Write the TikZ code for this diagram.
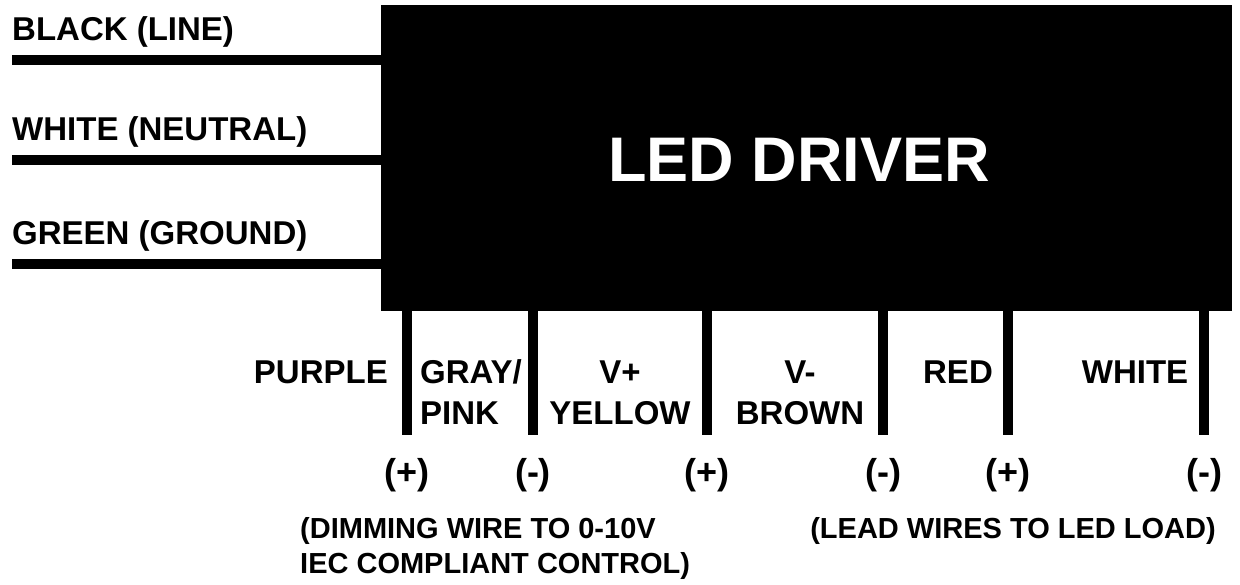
\documentclass[tikz,border=0pt]{standalone}
\usepackage{fontspec}
\setmainfont{Liberation Sans}
\begin{document}
\begin{tikzpicture}[x=1pt,y=-1pt,
  wire/.style={line width=10pt},
  lbl/.style={font=\fontsize{33}{40}\selectfont\bfseries, inner sep=0pt, align=center},
  sml/.style={font=\fontsize{29}{35}\selectfont\bfseries, inner sep=0pt},
  pm/.style={font=\fontsize{36}{40}\selectfont\bfseries, inner sep=0pt}]
\useasboundingbox (0,0) rectangle (1240,585);
\node[fill=black, minimum width=851pt, minimum height=306pt, inner sep=0pt, anchor=north west] (drv) at (381,5) {};
\node[text=white, font=\fontsize{63}{70}\selectfont\bfseries] (t) at (799,160) {LED DRIVER};
\foreach \y/\n/\t in {60/a/BLACK (LINE), 160/b/WHITE (NEUTRAL), 264/c/GREEN (GROUND)}{
  \coordinate (l\n) at (12,\y);
  \coordinate (r\n) at (381,\y);
  \draw[wire] (l\n) -- (r\n);
  \node[lbl, anchor=base west] at (12,\y-19) {\t};
}
\foreach \x/\n/\s in {407/p/(+), 533/g/(-), 707/y/(+), 883/b/(-), 1008/r/(+), 1204/w/(-)}{
  \coordinate (top\n) at (\x,311);
  \coordinate (bot\n) at (\x,435);
  \draw[wire] (top\n) -- (bot\n);
  \node[pm] (s\n) at (\x,475) {\s};
}
\node[lbl, anchor=base east] at (388,384) {PURPLE};
\node[lbl, anchor=base west, align=left] at (420,424) {GRAY/\\PINK};
\node[lbl, anchor=base] at (620,424) {V+\\YELLOW};
\node[lbl, anchor=base] at (800,424) {V-\\BROWN};
\node[lbl, anchor=base] at (958,384) {RED};
\node[lbl, anchor=base] at (1135,384) {WHITE};
\node[sml, anchor=base west, align=left] at (300,573) {(DIMMING WIRE TO 0-10V\\IEC COMPLIANT CONTROL)};
\node[sml, anchor=base] at (1013,538) {(LEAD WIRES TO LED LOAD)};
\end{tikzpicture}
\end{document}
